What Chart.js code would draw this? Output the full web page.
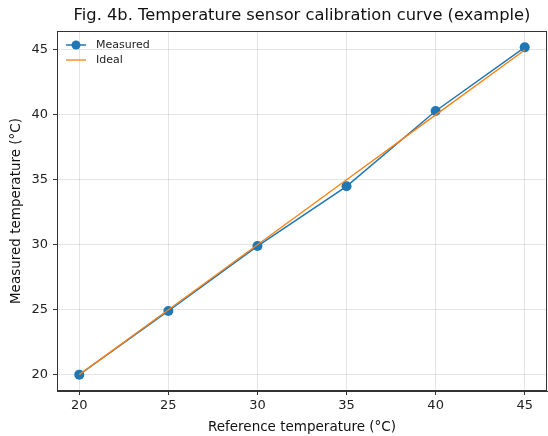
<!DOCTYPE html>
<html>
<head>
<meta charset="utf-8">
<script src="https://cdn.jsdelivr.net/npm/chart.js@4.4.1/dist/chart.umd.min.js"></script>
<style>
  html,body{margin:0;padding:0;background:#fff;overflow:hidden;width:548px;height:436px;}
  #wrap{position:absolute;left:0;top:0;width:552px;height:436px;}
</style>
</head>
<body>
<div id="wrap"><canvas id="c" width="552" height="436"></canvas></div>
<script>
// ── data ──
const refTemp = [20, 25, 30, 35, 40, 45];
const measured = [20.0, 24.9, 29.9, 34.5, 40.3, 45.2];
const ideal = [20, 25, 30, 35, 40, 45];
const xTicks = [20, 25, 30, 35, 40, 45];
const yTicks = [20, 25, 30, 35, 40, 45];

const TITLE = 'Fig. 4b. Temperature sensor calibration curve (example)';
const FONT = "'DejaVu Sans', sans-serif";
const BLUE = '#1f77b4';
const ORANGE = '#ff7f0e';

const el = (id) => document.getElementById(id);

// frame, title, legend
const extras = {
  id: 'extras',
  afterDraw(chart){
    const ctx = chart.ctx;
    const a = chart.chartArea;
    ctx.save();
    ctx.strokeStyle = '#333';
    ctx.lineWidth = 1;
    ctx.strokeRect(a.left + 0.5, a.top + 0.5, a.right - a.left - 1, a.bottom - a.top - 1);

    ctx.fillStyle = '#111';
    ctx.font = '16.3px ' + FONT;
    ctx.textAlign = 'center';
    ctx.textBaseline = 'middle';
    ctx.fillText(TITLE, (a.left + a.right) / 2, 16);

    // legend
    const items = [
      {label:'Measured', color:BLUE, marker:true, w:1.5},
      {label:'Ideal', color:ORANGE, marker:false, w:1.3}
    ];
    ctx.font = '11px ' + FONT;
    ctx.textAlign = 'left';
    items.forEach((it, i) => {
      const y = a.top + 14 + i * 15;
      ctx.strokeStyle = it.color;
      ctx.lineWidth = it.w;
      ctx.beginPath();
      ctx.moveTo(a.left + 9, y);
      ctx.lineTo(a.left + 29, y);
      ctx.stroke();
      if(it.marker){
        ctx.fillStyle = it.color;
        ctx.beginPath();
        ctx.arc(a.left + 19, y, 4.5, 0, Math.PI * 2);
        ctx.fill();
      }
      ctx.fillStyle = '#222';
      ctx.fillText(it.label, a.left + 39, y);
    });
    ctx.restore();
  }
};

const axisTitle = (t, pad) => ({display:true, text:t, color:'#111', font:{family:FONT, size:13.5}, padding:pad});

new Chart(el('c').getContext('2d'), {
  type: 'line',
  data: {
    datasets: [
      {
        label: 'Measured',
        data: refTemp.map((x, i) => ({x, y: measured[i]})),
        borderColor: BLUE,
        backgroundColor: BLUE,
        borderWidth: 1.5,
        pointRadius: 5,
        pointBorderWidth: 0,
        pointHoverRadius: 5,
        order: 1
      },
      {
        label: 'Ideal',
        data: refTemp.map((x, i) => ({x, y: ideal[i]})),
        borderColor: ORANGE,
        backgroundColor: ORANGE,
        borderWidth: 1.3,
        pointRadius: 0,
        order: 0
      }
    ]
  },
  options: {
    responsive: false,
    animation: false,
    layout: {padding: {top: 31, right: 3, left: 0, bottom: 0}},
    plugins: {legend: {display: false}, tooltip: {enabled: false}, title: {display: false}},
    scales: {
      x: {
        type: 'linear',
        min: 18.75, max: 46.25,
        afterBuildTicks: (s) => { s.ticks = xTicks.map(v => ({value: v})); },
        afterFit: (s) => { s.height = 45; },
        ticks: {color: '#222', font: {family: FONT, size: 13}, padding: 3, autoSkip: false, maxRotation: 0},
        grid: {color: 'rgba(0,0,0,0.1)', tickColor: '#333', tickLength: 4},
        border: {color: '#333'},
        title: axisTitle('Reference temperature (°C)', {top: 1, bottom: 0})
      },
      y: {
        type: 'linear',
        min: 18.74, max: 46.46,
        afterBuildTicks: (s) => { s.ticks = yTicks.map(v => ({value: v})); },
        afterFit: (s) => { s.width = 57; },
        ticks: {color: '#222', font: {family: FONT, size: 13}, padding: 5, autoSkip: false},
        grid: {color: 'rgba(0,0,0,0.1)', tickColor: '#333', tickLength: 4},
        border: {color: '#333'},
        title: axisTitle('Measured temperature (°C)', {top: 8, bottom: 0})
      }
    }
  },
  plugins: [extras]
});
</script>
</body>
</html>
